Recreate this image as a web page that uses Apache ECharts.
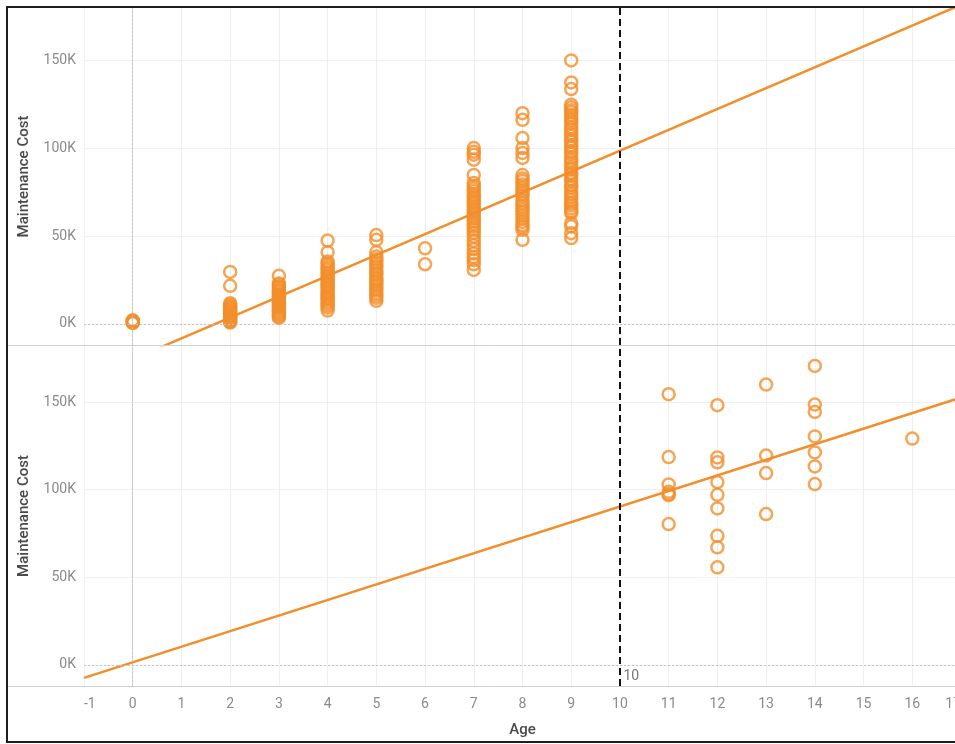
<!DOCTYPE html>
<html><head><meta charset="utf-8">
<script src="https://cdn.jsdelivr.net/npm/echarts@6/dist/echarts.min.js"></script>
<style>
html,body{margin:0;padding:0;width:955px;height:744px;overflow:hidden;background:#fff}
#chart{position:absolute;left:0;top:0;width:975px;height:744px}
#frame{position:absolute;left:6px;top:6px;width:1000px;height:733px;border:2px solid #1e1e1e;pointer-events:none}
</style></head><body>
<div id="chart"></div><div id="frame"></div>
<script>
// ---- data (costs in thousands) ----
const xTickLabels = [-1,0,1,2,3,4,5,6,7,8,9,10,11,12,13,14,15,16,17];
const yTickValues = [0, 50000, 100000, 150000];

const topAges = [0, 2, 3, 4, 5, 6, 7, 8, 9];
const topAge0 = [0.4, 0.9, 1.3, 1.8, 2.1];
const topAge2 = [29.6, 21.7, 11.8, 10.9, 10.1, 9.3, 8.8, 8.0, 7.3, 6.9, 6.1, 5.6, 4.9, 4.4, 3.6, 3.2, 2.5, 1.9, 1.2, 0.8];
const topAge3 = [27.4, 23.1, 22.3, 21.2, 20.5, 19.4, 18.7, 17.9, 16.8, 16.1, 15.3, 14.4, 13.6, 12.9, 11.8, 11.1, 10.3, 9.4, 8.7, 7.6, 6.9, 6.0, 5.2, 4.3, 3.4];
const topAge4 = [47.5, 40.9, 35.6, 34.3, 33.1, 31.8, 30.9, 29.5, 28.7, 27.3, 26.4, 25.0, 24.2, 22.8, 21.9, 20.7, 19.6, 18.3, 17.5, 16.2, 15.1, 14.3, 12.9, 11.8, 10.6, 9.4, 7.6];
const topAge5 = [50.6, 47.9, 40.9, 38.4, 36.8, 35.1, 33.6, 32.4, 30.7, 29.2, 27.9, 26.1, 24.8, 23.5, 21.9, 20.3, 19.0, 17.6, 16.2, 14.9, 13.2];
const topAge6 = [43.1, 34.0];
const topAge7 = [100.2, 98.1, 96.4, 93.6, 84.9, 80.3, 78.6, 77.1, 75.8, 74.0, 72.6, 71.3, 69.7, 68.5, 66.9, 65.4, 64.1, 62.8, 61.2, 59.9, 58.3, 57.0, 55.4, 53.8, 51.9, 49.7, 47.3, 44.8, 42.6, 40.2, 38.1, 36.4, 34.0, 30.8];
const topAge8 = [120.1, 116.3, 105.9, 100.2, 97.4, 94.6, 84.8, 82.9, 81.4, 79.5, 77.6, 75.9, 74.2, 72.7, 70.5, 68.9, 67.0, 65.2, 63.6, 61.7, 59.8, 58.1, 56.3, 55.2, 53.6, 47.9];
const topAge9 = [150.1, 137.6, 133.8, 124.9, 123.4, 121.8, 120.6, 119.0, 117.3, 115.9, 114.2, 112.1, 110.7, 108.6, 107.2, 105.1, 103.8, 101.7, 100.4, 98.3, 96.9, 94.8, 93.1, 91.6, 89.5, 88.2, 86.0, 84.7, 82.6, 81.3, 79.2, 77.8, 75.7, 74.1, 72.4, 70.6, 68.9, 67.5, 65.8, 64.2, 63.0, 57.4, 55.6, 51.7, 48.9];
const topCosts = [topAge0, topAge2, topAge3, topAge4, topAge5, topAge6, topAge7, topAge8, topAge9];

const bottomAges = [11, 12, 13, 14, 16];
const botAge11 = [154.5, 118.6, 103.0, 98.8, 97.5, 96.9, 80.4];
const botAge12 = [148.2, 118.4, 115.6, 104.3, 97.1, 89.3, 73.7, 67.1, 55.7];
const botAge13 = [160.0, 119.5, 109.5, 86.1];
const botAge14 = [170.6, 148.6, 144.4, 130.4, 121.3, 113.3, 103.2];
const botAge16 = [129.2];
const bottomCosts = [botAge11, botAge12, botAge13, botAge14, botAge16];

// trend lines: [intercept, slope] in cost units
const trendTop = [-20100, 11880];
const trendBottom = [1500, 8890];
const refAge = 10;

// ---- build ----
function pts(ages, costs) {
  const out = [];
  ages.forEach((a, i) => costs[i].forEach(c => out.push([a, c * 1000])));
  return out;
}
function trend(t) {
  return [-1, 17.5].map(x => [x, t[0] + t[1] * x]);
}
const ORANGE = '#f28e2b';
const FONT = 'Roboto';
const grids = [
  {left: 84, top: 8, width: 877, height: 337},
  {left: 84, top: 346, width: 877, height: 340}
];
function xAxis(i) {
  return {
    gridIndex: i, type: 'value', min: -1, max: 17, interval: 1,
    axisLine: {show: false}, axisTick: {show: false},
    axisLabel: {show: i === 1, color: '#8a8a8a', fontFamily: FONT, fontSize: 14, margin: 11,
      alignMinLabel: 'left', alignMaxLabel: 'right'},
    splitLine: {show: true, lineStyle: {color: '#efefef', width: 1}},
    name: i === 1 ? 'Age' : '', nameLocation: 'middle', nameGap: 37,
    nameTextStyle: {color: '#4a4a4a', fontFamily: FONT, fontSize: 15, fontWeight: 500}
  };
}
function yAxis(i, max) {
  return {
    gridIndex: i, type: 'value', min: -12000, max: max,
    axisLine: {show: true, lineStyle: {color: '#d6d6d6'}},
    axisTick: {show: false, customValues: yTickValues},
    axisLabel: {customValues: yTickValues, color: '#8a8a8a', fontFamily: FONT, fontSize: 14, margin: 8,
      formatter: v => (v / 1000) + 'K'},
    splitLine: {show: true, lineStyle: {color: '#efefef', width: 1}},
    name: 'Maintenance Cost', nameLocation: 'middle', nameGap: 52,
    nameTextStyle: {color: '#4a4a4a', fontFamily: FONT, fontSize: 15, fontWeight: 500}
  };
}
function refLines(i) {
  return {
    silent: true, symbol: 'none', animation: false,
    label: {show: false},
    data: [
      {xAxis: 0, lineStyle: {color: '#c4c4c4', type: [2, 2], width: 1}},
      {yAxis: 0, lineStyle: {color: '#c4c4c4', type: [2, 2], width: 1}},
      {xAxis: refAge, lineStyle: {color: '#111', type: [7, 4], width: 2}}
    ]
  };
}
function scatter(i, data) {
  const s = {
    type: 'scatter', xAxisIndex: i, yAxisIndex: i, data: data,
    symbol: 'circle', symbolSize: 12, z: 3,
    itemStyle: {color: 'rgba(0,0,0,0)', borderColor: ORANGE, borderWidth: 2.5},
    markLine: refLines(i)
  };
  if (i === 1) {
    s.markPoint = {
      silent: true, animation: false,
      data: [{coord: [refAge, -12000], symbol: 'circle', symbolSize: 1,
        itemStyle: {color: 'rgba(0,0,0,0)'},
        label: {show: true, formatter: String(refAge), position: 'right', distance: 3, offset: [0, -10],
          color: '#777', fontFamily: FONT, fontSize: 14}}]
    };
  }
  return s;
}
function line(i, t) {
  return {
    type: 'line', xAxisIndex: i, yAxisIndex: i, data: trend(t), showSymbol: false, silent: true,
    clip: true, z: 4, lineStyle: {color: ORANGE, width: 2.5}
  };
}
const chart = echarts.init(document.getElementById('chart'), null, {renderer: 'canvas'});
chart.setOption({
  animation: false,
  backgroundColor: '#fff',
  grid: grids,
  xAxis: [xAxis(0), xAxis(1)],
  yAxis: [yAxis(0, 180000), yAxis(1, 182000)],
  series: [
    scatter(0, pts(topAges, topCosts)),
    line(0, trendTop),
    scatter(1, pts(bottomAges, bottomCosts)),
    line(1, trendBottom)
  ],
  graphic: [
    {type: 'line', shape: {x1: 8, y1: 345.5, x2: 975, y2: 345.5}, style: {stroke: '#d0d0d0', lineWidth: 1}, silent: true, z: 10},
    {type: 'line', shape: {x1: 8, y1: 686.5, x2: 975, y2: 686.5}, style: {stroke: '#d0d0d0', lineWidth: 1}, silent: true, z: 10}
  ]
});
</script>
</body></html>
